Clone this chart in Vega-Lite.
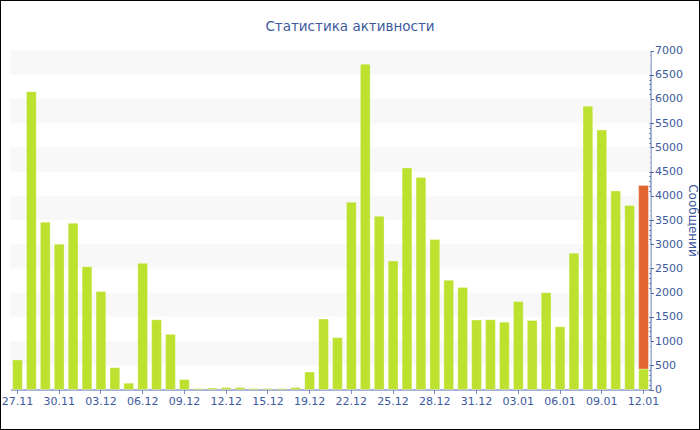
{
  "$schema": "https://vega.github.io/schema/vega-lite/v6.json",
  "width": 700,
  "height": 430,
  "autosize": "none",
  "padding": 0,
  "background": "white",
  "config": {
    "view": {"stroke": "#000000", "strokeWidth": 2},
    "font": "DejaVu Sans"
  },
  "title": {
    "text": "Статистика активности",
    "fontSize": 13.5,
    "fontWeight": "normal",
    "color": "#3d5a9e",
    "anchor": "middle",
    "frame": "group",
    "offset": -40,
    "baseline": "middle"
  },
  "datasets": {
    "bands": [
      {"lo": 500, "hi": 1000},
      {"lo": 1500, "hi": 2000},
      {"lo": 2500, "hi": 3000},
      {"lo": 3500, "hi": 4000},
      {"lo": 4500, "hi": 5000},
      {"lo": 5500, "hi": 6000},
      {"lo": 6500, "hi": 7000}
    ],
    "bars": [
      {"d": "27.11", "v": 610, "s": "a"},
      {"d": "28.11", "v": 6150, "s": "a"},
      {"d": "29.11", "v": 3455, "s": "a"},
      {"d": "30.11", "v": 3000, "s": "a"},
      {"d": "01.12", "v": 3435, "s": "a"},
      {"d": "02.12", "v": 2535, "s": "a"},
      {"d": "03.12", "v": 2025, "s": "a"},
      {"d": "04.12", "v": 450, "s": "a"},
      {"d": "05.12", "v": 130, "s": "a"},
      {"d": "06.12", "v": 2605, "s": "a"},
      {"d": "07.12", "v": 1440, "s": "a"},
      {"d": "08.12", "v": 1140, "s": "a"},
      {"d": "09.12", "v": 205, "s": "a"},
      {"d": "10.12", "v": 20, "s": "a"},
      {"d": "11.12", "v": 30, "s": "a"},
      {"d": "12.12", "v": 40, "s": "a"},
      {"d": "13.12", "v": 40, "s": "a"},
      {"d": "14.12", "v": 20, "s": "a"},
      {"d": "15.12", "v": 20, "s": "a"},
      {"d": "16.12", "v": 20, "s": "a"},
      {"d": "17.12", "v": 40, "s": "a"},
      {"d": "19.12", "v": 360, "s": "a"},
      {"d": "20.12", "v": 1455, "s": "a"},
      {"d": "21.12", "v": 1070, "s": "a"},
      {"d": "22.12", "v": 3865, "s": "a"},
      {"d": "23.12", "v": 6715, "s": "a"},
      {"d": "24.12", "v": 3575, "s": "a"},
      {"d": "25.12", "v": 2655, "s": "a"},
      {"d": "26.12", "v": 4575, "s": "a"},
      {"d": "27.12", "v": 4380, "s": "a"},
      {"d": "28.12", "v": 3095, "s": "a"},
      {"d": "29.12", "v": 2255, "s": "a"},
      {"d": "30.12", "v": 2105, "s": "a"},
      {"d": "31.12", "v": 1435, "s": "a"},
      {"d": "01.01", "v": 1440, "s": "a"},
      {"d": "02.01", "v": 1390, "s": "a"},
      {"d": "03.01", "v": 1815, "s": "a"},
      {"d": "04.01", "v": 1425, "s": "a"},
      {"d": "05.01", "v": 2000, "s": "a"},
      {"d": "06.01", "v": 1295, "s": "a"},
      {"d": "07.01", "v": 2815, "s": "a"},
      {"d": "08.01", "v": 5850, "s": "a"},
      {"d": "09.01", "v": 5360, "s": "a"},
      {"d": "10.01", "v": 4100, "s": "a"},
      {"d": "11.01", "v": 3800, "s": "a"},
      {"d": "12.01", "v": 425, "s": "a"},
      {"d": "12.01", "v": 3785, "s": "b"}
    ]
  },
  "layer": [
    {
      "data": {"name": "bands"},
      "mark": {"type": "rect", "color": "#f8f8f8"},
      "encoding": {
        "x": {"datum": 0, "type": "quantitative", "scale": {"domain": [0, 1], "range": [10.5, 650.5]}, "axis": null},
        "x2": {"datum": 1},
        "y": {
          "field": "lo", "type": "quantitative",
          "scale": {"domain": [0, 7000], "range": [389.5, 50.5], "nice": false},
          "axis": {
            "orient": "right", "offset": -49.5, "tickCount": 70,
            "labels": false, "domain": false, "grid": false, "title": null,
            "ticks": true, "tickSize": -2, "tickColor": "#7f8fbd", "tickWidth": 1
          }
        },
        "y2": {"field": "hi"}
      }
    },
    {
      "data": {"name": "bars"},
      "mark": {"type": "bar", "stroke": "white", "strokeOpacity": 0.3, "strokeWidth": 1},
      "encoding": {
        "x": {
          "field": "d", "type": "nominal", "sort": null,
          "scale": {"type": "band", "range": [10.5, 650.5], "paddingInner": 0.3, "paddingOuter": 0.15},
          "axis": {
            "orient": "bottom", "offset": -40.5, "title": null, "labelAngle": 0,
            "values": ["27.11", "30.11", "03.12", "06.12", "09.12", "12.12", "15.12", "19.12", "22.12", "25.12", "28.12", "31.12", "03.01", "06.01", "09.01", "12.01"],
            "grid": false, "tickSize": 4, "tickColor": "#7f8fbd", "domainColor": "#4a64a8",
            "labelColor": "#3d5a9e", "labelFontSize": 11, "labelPadding": 2,
            "labelOverlap": false, "labelBound": false, "labelFlush": false
          }
        },
        "y": {
          "field": "v", "type": "quantitative", "stack": "zero",
          "scale": {"domain": [0, 7000], "range": [389.5, 50.5], "nice": false},
          "axis": {
            "orient": "right", "offset": -49.5, "tickCount": 14, "grid": false, "format": "d",
            "title": "Сообщений", "titleColor": "#3d5a9e", "titleFontSize": 12, "titleFontWeight": "normal", "titlePadding": 3,
            "tickSize": 3, "tickColor": "#4a64a8", "domainColor": "#4a64a8",
            "labelColor": "#3d5a9e", "labelFontSize": 11, "labelPadding": 1,
            "labelOverlap": false, "labelBound": false, "labelFlush": false
          }
        },
        "color": {"field": "s", "type": "nominal", "scale": {"domain": ["a", "b"], "range": ["#bde12f", "#e2642e"]}, "legend": null},
        "order": {"field": "s", "sort": "ascending"}
      }
    }
  ],
  "resolve": {"scale": {"x": "independent"}, "axis": {"y": "independent"}}
}
